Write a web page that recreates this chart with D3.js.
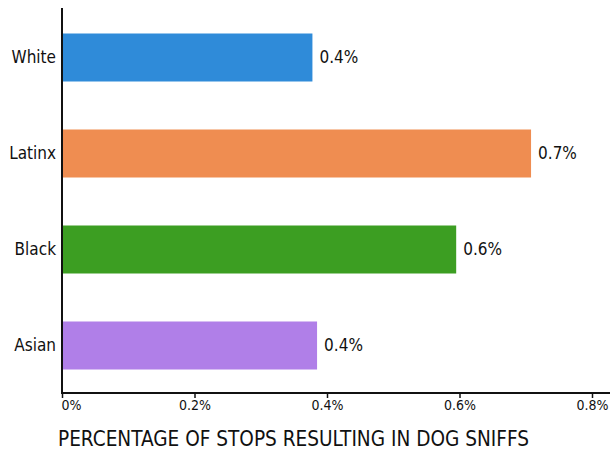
<!DOCTYPE html>
<html><head><meta charset="utf-8">
<script src="https://cdn.jsdelivr.net/npm/d3@7"></script>
<style>body{margin:0;background:#fff}text{font-family:"Liberation Sans Narrow","DejaVu Sans Condensed",Roboto,sans-serif;fill:#111}</style>
</head><body>
<svg id="c" width="610" height="452"></svg>
<script>
const categories = ["White","Latinx","Black","Asian"];
const values = [0.378, 0.708, 0.595, 0.385];
const valueLabels = ["0.4%","0.7%","0.6%","0.4%"];
const colors = ["#2F8BD9","#EF8D51","#3C9E22","#B07FE8"];
const tickValues = [0, 0.2, 0.4, 0.6, 0.8];
const title = "PERCENTAGE OF STOPS RESULTING IN DOG SNIFFS";

const svg = d3.select("#c");
const x = d3.scaleLinear().domain([0,0.8]).range([62,592]);
const y = d3.scaleBand().domain(categories).range([9.5,393.5]).paddingInner(0.5).paddingOuter(0.25);

svg.selectAll("rect.bar").data(categories).join("rect")
  .attr("x", x(0)).attr("y", d=>y(d))
  .attr("width", (d,i)=>x(values[i])-x(0)).attr("height", y.bandwidth())
  .attr("fill", (d,i)=>colors[i]);

svg.selectAll("text.vl").data(categories).join("text")
  .attr("x", (d,i)=>x(values[i])+7).attr("y", d=>y(d)+y.bandwidth()/2)
  .attr("dy","0.35em").attr("font-size",17).text((d,i)=>valueLabels[i]);

svg.selectAll("text.cl").data(categories).join("text")
  .attr("x", 56).attr("y", d=>y(d)+y.bandwidth()/2)
  .attr("dy","0.35em").attr("text-anchor","end").attr("font-size",17).text(d=>d);

svg.append("line").attr("x1",62).attr("x2",62).attr("y1",8).attr("y2",393.5)
  .attr("stroke","#111").attr("stroke-width",2);

const xa = svg.append("g").attr("transform","translate(0,393)")
  .call(d3.axisBottom(x).tickValues(tickValues).tickSize(5).tickSizeOuter(0)
    .tickFormat(d=>d3.format(".1f")(d).replace(/^0\.0$/,"0")+"%"));
xa.select(".domain").attr("stroke","#111").attr("stroke-width",2).attr("d","M61,0H610");
xa.selectAll(".tick line").attr("stroke","#111").attr("stroke-width",1.5).attr("y1",-1);
xa.selectAll(".tick text").attr("font-size",14).attr("y",7).attr("fill","#111");
xa.selectAll(".tick text").filter(d=>d===0).attr("text-anchor","start").attr("dx",-1);

svg.append("text").attr("x",58).attr("y",446).attr("font-size",22)
  .attr("textLength",471).attr("lengthAdjust","spacingAndGlyphs").text(title);
</script>
</body></html>
